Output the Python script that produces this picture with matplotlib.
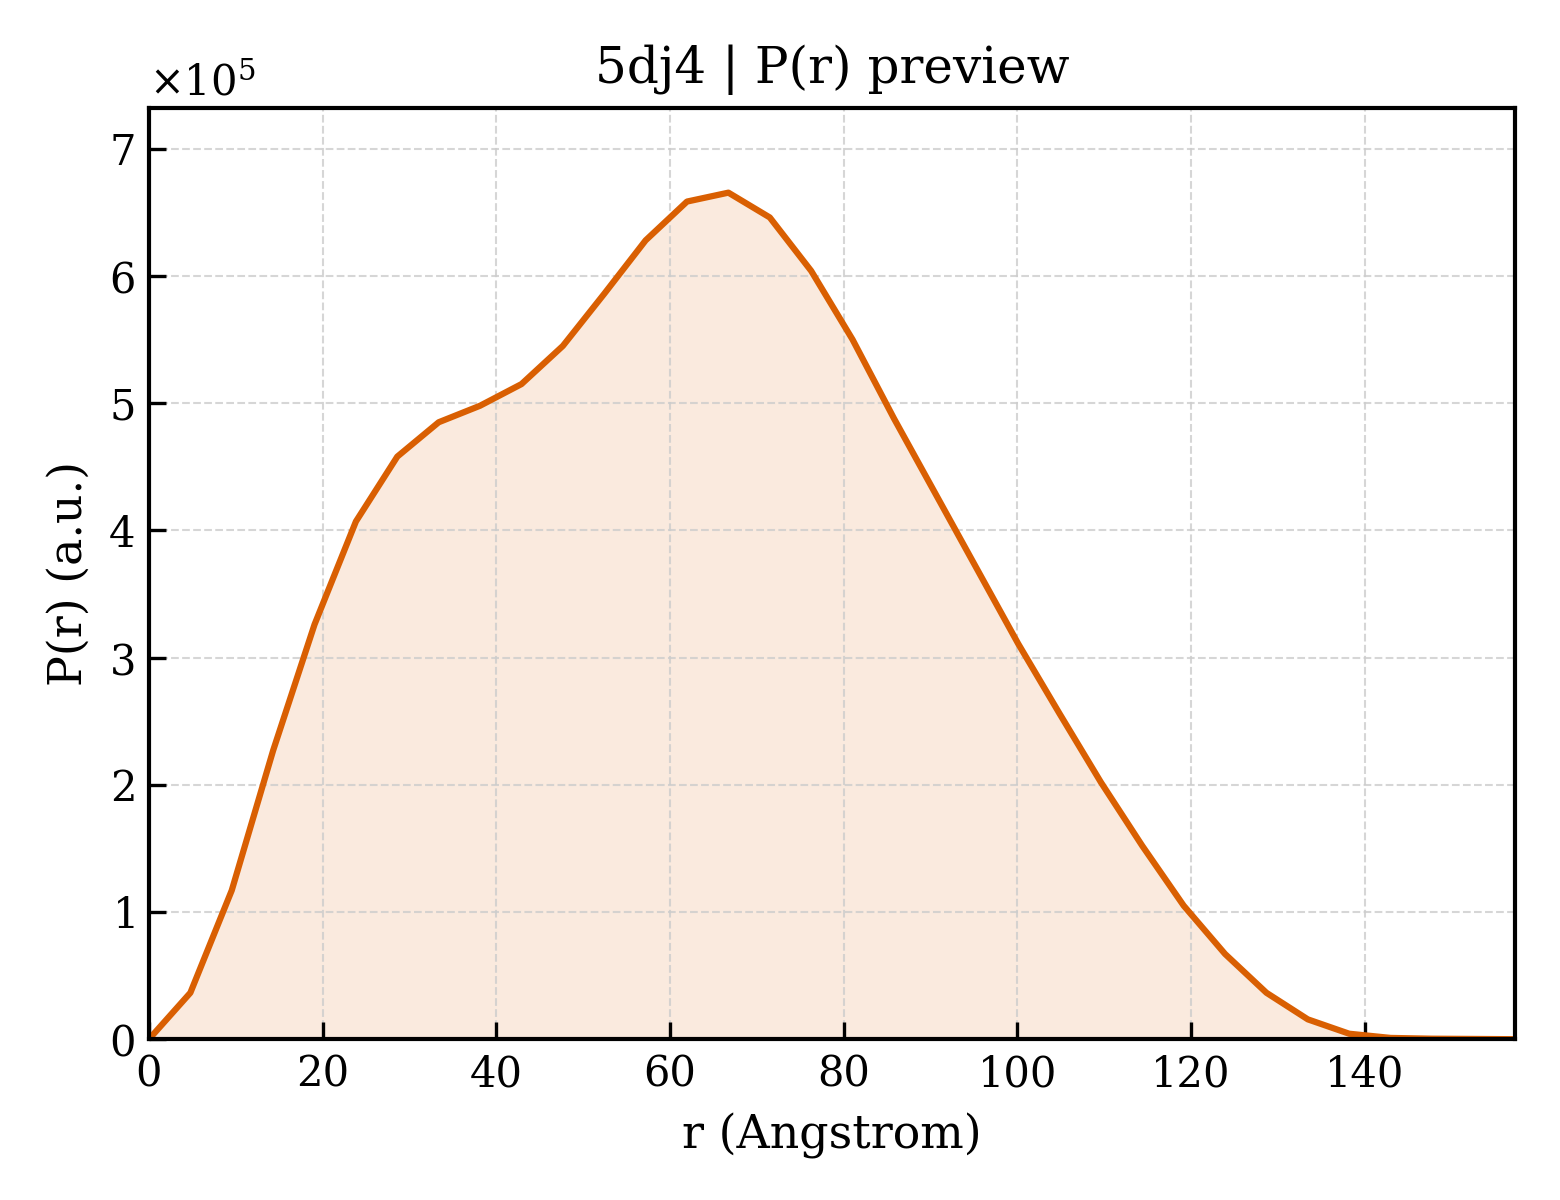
import numpy as np
import matplotlib
matplotlib.use("Agg")
import matplotlib.pyplot as plt
from matplotlib.ticker import ScalarFormatter

plt.rcParams['font.family'] = ['DejaVu Serif']
plt.rcParams['mathtext.fontset'] = 'dejavuserif'

r_max = 157.3
n_points = 34
r = np.linspace(0, r_max, n_points)
pr_scaled = [0.0, 0.365, 1.17, 2.27, 3.26, 4.07, 4.58, 4.85, 4.98, 5.15,
             5.45, 5.86, 6.28, 6.585, 6.655, 6.46, 6.04, 5.50, 4.88, 4.29,
             3.70, 3.11, 2.56, 2.02, 1.52, 1.05, 0.67, 0.365, 0.156, 0.043,
             0.01, 0.004, 0.002, 0.0]
pr = np.array(pr_scaled) * 1e5

title = "5dj4 | P(r) preview"
xlabel = "r (Angstrom)"
ylabel = "P(r) (a.u.)"
color = "#D95F02"

fig = plt.figure(figsize=(5.2, 4.0), dpi=300)
ax = fig.add_axes([0.0955, 0.134, 0.8755, 0.776])
ax.fill_between(r, pr, 0, color=color, alpha=0.13, linewidth=0)
ax.plot(r, pr, color=color, linewidth=1.5)

ax.set_xlim(0, r_max)
ax.set_ylim(0, pr.max() * 1.1)
ax.set_xticks(np.arange(0, 141, 20))

fmt = ScalarFormatter(useMathText=True)
fmt.set_powerlimits((0, 0))
ax.yaxis.set_major_formatter(fmt)
ax.yaxis.get_offset_text().set_fontsize(10)

ax.tick_params(direction='in', labelsize=10, length=4, width=0.8)
ax.grid(True, linestyle='--', linewidth=0.5, color='#cccccc', alpha=0.8)
for s in ax.spines.values():
    s.set_linewidth(1.0)

ax.set_title(title, fontsize=12)
ax.set_xlabel(xlabel, fontsize=11)
ax.set_ylabel(ylabel, fontsize=11)

fig.savefig("out.png", dpi=300)
